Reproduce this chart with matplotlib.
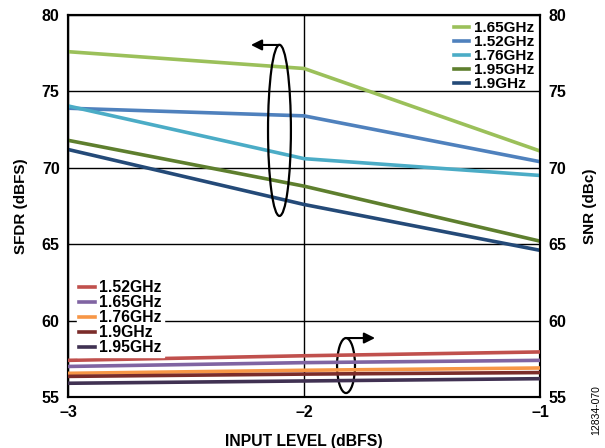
import matplotlib.pyplot as plt
from matplotlib.patches import Ellipse

plt.rcParams['font.family'] = ['Liberation Sans', 'DejaVu Sans']
plt.rcParams['font.weight'] = 'bold'

input_level = [-3, -2, -1]

# SFDR (dBFS), left axis
sfdr_labels = ['1.65GHz', '1.52GHz', '1.76GHz', '1.95GHz', '1.9GHz']
sfdr_values = [
    [77.6, 76.5, 71.1],
    [73.9, 73.4, 70.4],
    [74.05, 70.6, 69.5],
    [71.8, 68.8, 65.2],
    [71.2, 67.6, 64.6],
]
sfdr_colors = ['#9bc05a', '#4f81bd', '#4bacc6', '#5e7f2e', '#244a78']

# SNR (dBc), right axis
snr_labels = ['1.52GHz', '1.65GHz', '1.76GHz', '1.9GHz', '1.95GHz']
snr_values = [
    [57.4, 57.7, 57.95],
    [57.0, 57.25, 57.4],
    [56.55, 56.75, 56.9],
    [56.35, 56.5, 56.6],
    [55.9, 56.05, 56.2],
]
snr_colors = ['#c0504d', '#8064a2', '#f79646', '#7b2c2a', '#403152']

fig = plt.figure(figsize=(6.05, 4.48), dpi=100)
ax = fig.add_axes([0.1124, 0.1138, 0.7802, 0.8527])
ax2 = ax.twinx()

for vals, lab, col in zip(sfdr_values, sfdr_labels, sfdr_colors):
    ax.plot(input_level, vals, color=col, lw=2.6, label=lab, zorder=3)
for vals, lab, col in zip(snr_values, snr_labels, snr_colors):
    ax2.plot(input_level, vals, color=col, lw=2.6, label=lab, zorder=3)

for a in (ax, ax2):
    a.set_xlim(-3, -1)
    a.set_ylim(55, 80)
    a.set_yticks([55, 60, 65, 70, 75, 80])
    a.tick_params(length=0, labelsize=11.5, pad=6)
    for s in a.spines.values():
        s.set_linewidth(1.5)

ax.set_xticks(input_level)
ax.set_xticklabels(['\u20133', '\u20132', '\u20131'])
ax.grid(True, color='black', lw=1.0)
ax.set_axisbelow(True)

ax.set_xlabel('INPUT LEVEL (dBFS)', fontsize=11.3, fontweight='bold', labelpad=10)
ax.set_ylabel('SFDR (dBFS)', fontsize=11, fontweight='bold', labelpad=10)
ax2.set_ylabel('SNR (dBc)', fontsize=11, fontweight='bold', labelpad=12)

leg1 = ax.legend(loc='upper right', bbox_to_anchor=(1.0, 1.0), frameon=False,
                 handlelength=1.0, handletextpad=0.3, labelspacing=0.0,
                 prop={'size': 11, 'weight': 'bold'}, borderaxespad=0.0)
leg2 = ax2.legend(loc='lower left', bbox_to_anchor=(0.02, 0.105), frameon=True,
                  handlelength=1.0, handletextpad=0.3, labelspacing=0.0,
                  prop={'size': 11.3, 'weight': 'bold'}, borderaxespad=0.0,
                  borderpad=0.1, framealpha=1.0, edgecolor='white', fancybox=False)

# ellipses with arrows
ax.add_patch(Ellipse((-2.104, 72.45), 0.097, 11.2, fill=False, lw=1.6,
                     edgecolor='black', zorder=5))
ax.annotate('', xy=(-2.225, 78.04), xytext=(-2.104, 78.04),
            arrowprops=dict(arrowstyle='-|>', color='black', lw=1.5,
                            mutation_scale=16, shrinkA=0, shrinkB=0), zorder=5)
ax.add_patch(Ellipse((-1.822, 57.06), 0.076, 3.6, fill=False, lw=1.6,
                     edgecolor='black', zorder=5))
ax.annotate('', xy=(-1.699, 58.86), xytext=(-1.822, 58.86),
            arrowprops=dict(arrowstyle='-|>', color='black', lw=1.5,
                            mutation_scale=16, shrinkA=0, shrinkB=0), zorder=5)

fig.text(0.986, 0.085, '12834-070', rotation=90, fontsize=7.5, fontweight='normal',
         ha='center', va='center')

fig.savefig('out.png', dpi=100)
